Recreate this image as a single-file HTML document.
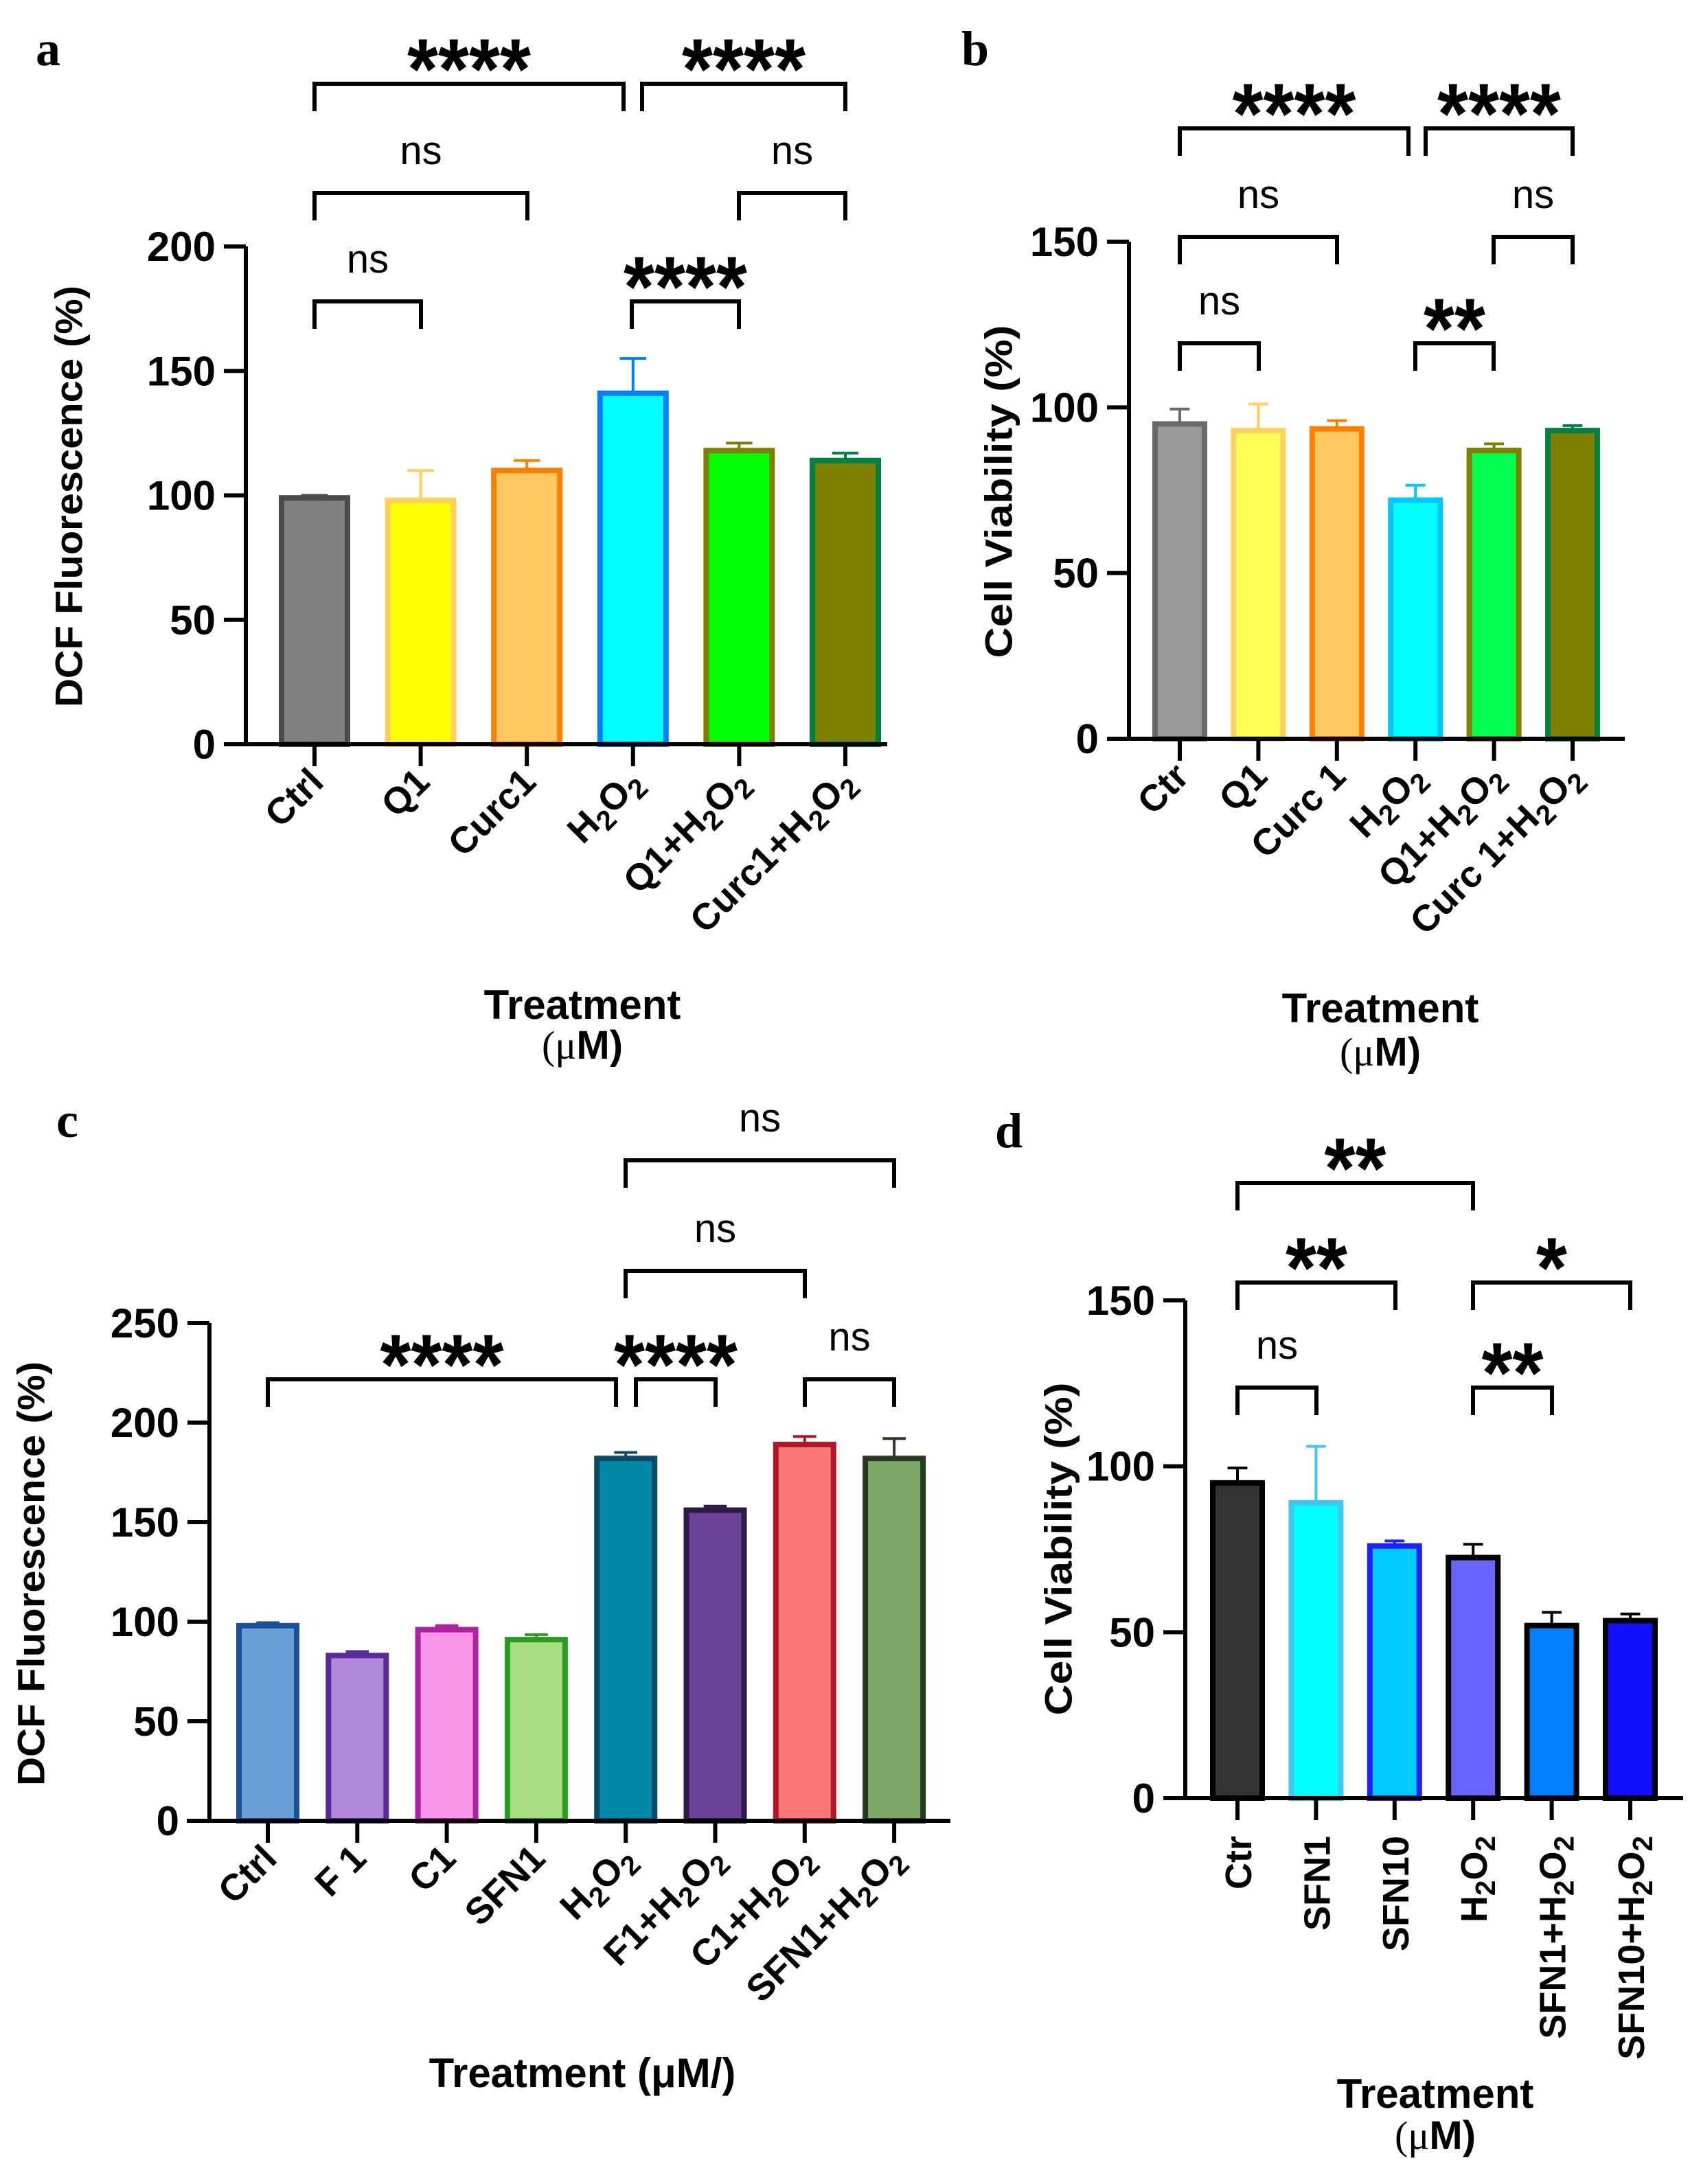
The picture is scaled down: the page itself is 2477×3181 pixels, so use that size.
<!DOCTYPE html>
<html><head><meta charset="utf-8"><style>
html,body{margin:0;padding:0;background:#fff}
svg{display:block}
</style></head><body>
<svg id="fig" width="2477" height="3181" viewBox="0 0 2477 3181" xmlns="http://www.w3.org/2000/svg" font-family="Liberation Sans, sans-serif">
<rect width="2477" height="3181" fill="#fff"/>
</svg>
<script>
// Panel a
const aCats = ["Ctrl","Q1","Curc1","H2O2","Q1+H2O2","Curc1+H2O2"];
const aVals = [99, 98, 110, 141, 118, 114];
const aErr  = [100, 110, 114, 155, 121, 117];
const aTicks = [0, 50, 100, 150, 200];
// Panel b
const bCats = ["Ctr","Q1","Curc 1","H2O2","Q1+H2O2","Curc 1+H2O2"];
const bVals = [95, 93, 93.5, 72, 87, 93];
const bErr  = [99.5, 101, 96, 76.5, 89, 94.5];
const bTicks = [0, 50, 100, 150];
// Panel c
const cCats = ["Ctrl","F 1","C1","SFN1","H2O2","F1+H2O2","C1+H2O2","SFN1+H2O2"];
const cVals = [98, 83, 96, 91, 182, 156, 189, 182];
const cErr  = [99.5, 85, 98, 93.5, 185, 158, 193, 192];
const cTicks = [0, 50, 100, 150, 200, 250];
// Panel d
const dCats = ["Ctr","SFN1","SFN10","H2O2","SFN1+H2O2","SFN10+H2O2"];
const dVals = [95, 89, 76, 72.5, 52, 53.5];
const dErr  = [99.5, 106, 77.5, 76.5, 56, 55.5];
const dTicks = [0, 50, 100, 150];

const NS = "http://www.w3.org/2000/svg";
const svg = document.getElementById("fig");
function mk(tag, attrs, parent) {
  const e = document.createElementNS(NS, tag);
  for (const k in attrs) e.setAttribute(k, attrs[k]);
  (parent || svg).appendChild(e);
  return e;
}
function addLabel(g, str, x, y, rot, size) {
  const t = mk("text", {x: x, y: y, "font-size": size, "font-weight": "bold", "text-anchor": "end", transform: "rotate(" + rot + " " + x + " " + y + ")"}, g);
  
  
  const parts = str.split("H2O2");
  const sh = size * 0.22, ss = size * 0.75;
  parts.forEach((p, i) => {
    if (p) { const s = mk("tspan", {}, t); s.textContent = p; }
    if (i < parts.length - 1) {
      const h = mk("tspan", {}, t); h.textContent = "H";
      const s1 = mk("tspan", {dy: sh, "font-size": ss}, t); s1.textContent = "2";
      const o = mk("tspan", {dy: -sh}, t); o.textContent = "O";
      const s2 = mk("tspan", {dy: sh, "font-size": ss}, t); s2.textContent = "2";
    }
  });
}

function panel(P) {
  const g = mk("g", {});
  
  
  const yScale = v => P.y0 - (v / P.max) * (P.y0 - P.yTop);
  const xScale = i => P.x0c + i * P.dx;
  P.vals.forEach((v, i) => {
    const cx = xScale(i), hw = P.bw / 2;
    const r = mk("rect", {x: cx - hw, y: yScale(v), width: P.bw, height: P.y0 - yScale(v), fill: P.fills[i], stroke: P.strokes[i], "stroke-width": 8}, g);
    
    
    const e = mk("path", {d: "M" + cx + " " + yScale(v) + "V" + yScale(P.err[i]) + "M" + (cx - P.bw * 0.2) + " " + yScale(P.err[i]) + "H" + (cx + P.bw * 0.2), stroke: P.strokes[i], "stroke-width": 4, fill: "none"}, g);
    
    
  });
  const ax = mk("path", {d: "M" + P.axX + " " + P.yTop + "V" + P.y0 + "M" + P.xStart + " " + P.y0 + "H" + P.xEnd, stroke: "#000", "stroke-width": 6, fill: "none"}, g);
  
  
  P.ticks.forEach(t => {
    const y = yScale(t);
    const l = mk("line", {x1: P.axX - 32, x2: P.axX, y1: y, y2: y, stroke: "#000", "stroke-width": 6}, g);
    
    
    const tx = mk("text", {x: P.axX - 44, y: y + 21, "font-size": 60, "font-weight": "bold", "text-anchor": "end"}, g);
    tx.textContent = t;
    
    
  });
  P.cats.forEach((c, i) => {
    const cx = xScale(i);
    const l = mk("line", {x1: cx, x2: cx, y1: P.y0, y2: P.y0 + 32, stroke: "#000", "stroke-width": 6}, g);
    
    
    if (P.rot === -90) addLabel(g, c, cx + 20, P.y0 + 55, -90, 54);
    else addLabel(g, c, cx + 16, P.y0 + 58, -45, 54);
  });
  P.brackets.forEach(b => {
    const x1 = b[0], x2 = b[1], y = b[2], label = b[3];
    const p = mk("path", {d: "M" + x1 + " " + (y + 40) + "V" + y + "H" + x2 + "V" + (y + 40), stroke: "#000", "stroke-width": 6, fill: "none"}, g);
    
    
    const mid = (x1 + x2) / 2;
    let t;
    if (label === "ns") {
      t = mk("text", {x: mid, y: y - 42, "font-size": 58, "text-anchor": "middle"}, g);
    } else {
      t = mk("text", {x: mid, y: y + 22, "font-size": 125, "font-weight": "bold", "text-anchor": "middle", textLength: label.length * 45, lengthAdjust: "spacingAndGlyphs"}, g);
    }
    t.textContent = label;
    
    
  });
  const yl = mk("text", {x: P.ylx, y: P.yly, "font-size": 56, "font-weight": "bold", "text-anchor": "middle", "dominant-baseline": "central", transform: "rotate(-90 " + P.ylx + " " + P.yly + ")", textLength: P.ylen, lengthAdjust: "spacingAndGlyphs"}, g);
  yl.textContent = P.ylabel;
  
  
  const xl = mk("text", {x: P.xlx, y: P.xly, "font-size": 60, "font-weight": "bold", "text-anchor": "middle"}, g);
  xl.textContent = P.xlabel;
  
  
  if (P.unitY) {
    const u = mk("text", {x: P.xlx, y: P.unitY, "font-size": 58, "font-weight": "bold", "text-anchor": "middle"}, g);
    const m = mk("tspan", {"font-family": "Liberation Serif, serif", "font-weight": "normal"}, u); m.textContent = "(μ";
    const mm = mk("tspan", {}, u); mm.textContent = "M)";
    
    
  }
  const pl = mk("text", {x: P.lx, y: P.ly, "font-size": 72, "font-weight": "bold", "font-family": "Liberation Serif, serif", "text-anchor": "middle"}, g);
  pl.textContent = P.letter;
  
  
}

panel({name: "panel-a", cats: aCats, vals: aVals, err: aErr, ticks: aTicks, max: 200,
  y0: 1084, yTop: 359, axX: 358, xStart: 327, xEnd: 1292, x0c: 458, dx: 154.6, bw: 96,
  fills: ["#808080","#ffff00","#ffc860","#00ffff","#00ff00","#808000"],
  strokes: ["#4a4a4a","#ffd060","#ff8000","#0080ff","#808000","#008040"],
  brackets: [[458,908,122,"****"],[935,1231,122,"****"],[458,768,281,"ns"],[1076,1231,281,"ns"],[458,613,439,"ns"],[920,1076,439,"****"]],
  ylabel: "DCF Fluorescence (%)", ylen: 614, ylx: 100, yly: 723, xlabel: "Treatment", xlx: 848, xly: 1484, unitY: 1542,
  letter: "a", lx: 70, ly: 95});

panel({name: "panel-b", cats: bCats, vals: bVals, err: bErr, ticks: bTicks, max: 150,
  y0: 1076, yTop: 352, axX: 1644, xStart: 1614, xEnd: 2366, x0c: 1718, dx: 114.4, bw: 72,
  fills: ["#999999","#ffff55","#ffc860","#00ffff","#00ff50","#808000"],
  strokes: ["#6a6a6a","#ffd060","#ff8000","#00c8ff","#808000","#008040"],
  brackets: [[1718,2051,187,"****"],[2076,2290,187,"****"],[1718,1947,345,"ns"],[2175,2290,345,"ns"],[1718,1833,500,"ns"],[2061,2175,500,"**"]],
  ylabel: "Cell Viability (%)", ylen: 485, ylx: 1454, yly: 716, xlabel: "Treatment", xlx: 2010, xly: 1489, unitY: 1552,
  letter: "b", lx: 1420, ly: 95});

panel({name: "panel-c", cats: cCats, vals: cVals, err: cErr, ticks: cTicks, max: 250,
  y0: 2652, yTop: 1927, axX: 305, xStart: 272, xEnd: 1384, x0c: 390, dx: 130.3, bw: 84,
  fills: ["#6a9fd6","#b08ad8","#f896e8","#a8dc80","#0088a8","#6a4296","#f87878","#7ea86a"],
  strokes: ["#1a4f9a","#5a2a9a","#b020a0","#2a9a20","#0a4a66","#2e1a48","#b01828","#2a3a22"],
  brackets: [[911,1302,1690,"ns"],[911,1172,1851,"ns"],[390,897,2009,"****"],[926,1042,2009,"****"],[1172,1302,2009,"ns"]],
  ylabel: "DCF Fluorescence (%)", ylen: 618, ylx: 45, yly: 2292, xlabel: "Treatment  (μM/)", xlx: 848, xly: 3040, unitY: null,
  letter: "c", lx: 98, ly: 1656});

panel({name: "panel-d", cats: dCats, vals: dVals, err: dErr, ticks: dTicks, max: 150,
  y0: 2619, yTop: 1894, axX: 1726, xStart: 1697, xEnd: 2451, x0c: 1802, dx: 114.4, bw: 72, rot: -90,
  fills: ["#333333","#00ffff","#00ccff","#6666ff","#0080ff","#1010ff"],
  strokes: ["#000000","#40c8f0","#2020ff","#000000","#000000","#000000"],
  brackets: [[1802,2145,1723,"**"],[1802,2032,1868,"**"],[2145,2374,1868,"*"],[1802,1917,2021,"ns"],[2145,2260,2021,"**"]],
  ylabel: "Cell Viability (%)", ylen: 485, ylx: 1541, yly: 2256, xlabel: "Treatment", xlx: 2090, xly: 3070, unitY: 3130,
  letter: "d", lx: 1469, ly: 1671});
</script>
</body></html>
